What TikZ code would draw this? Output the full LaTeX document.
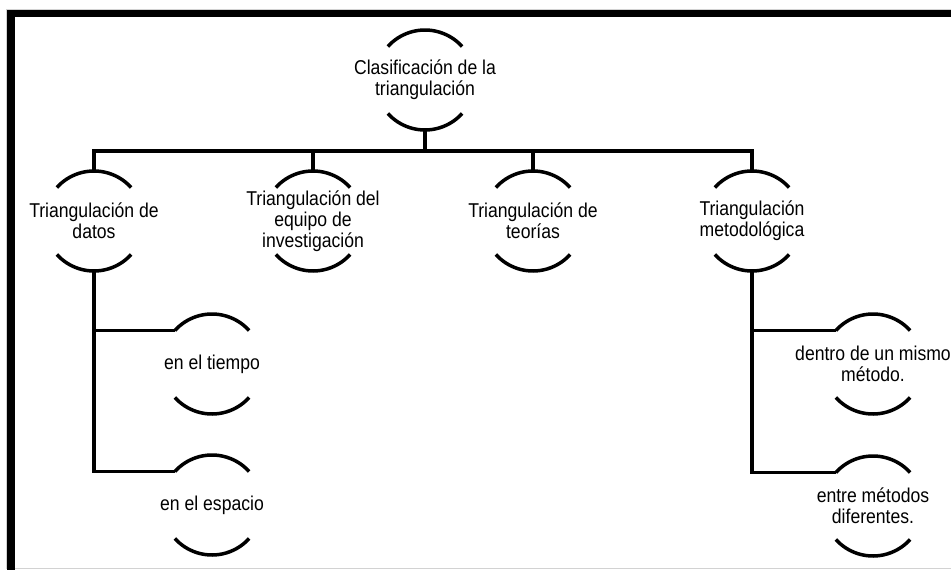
\documentclass[tikz,border=0pt]{standalone}
\usepackage{fontspec}
\setmainfont{Liberation Sans}[FakeStretch=0.88]
\begin{document}
\begin{tikzpicture}[x=1pt,y=-1pt,
        rama/.style={line width=3.5pt},
        nodo/.style={circle,minimum size=100pt,inner sep=0pt,outer sep=0pt},
        texto/.style={align=center,font=\fontsize{20}{21}\selectfont}]
        \useasboundingbox (0,0) rectangle (951,570);
        % Marco
        \draw[gray!35,line width=1pt] (6.5,9) rectangle (960,568);
        \fill (7,10) rectangle (951,17);
        \fill (7,10) rectangle (15,570);

        % Nodos
        \node[nodo,label={[texto]center:Clasificación de la\\triangulación}] (clasif) at (425,80) {};
        \node[nodo,label={[texto]center:Triangulación de\\datos}] (datos) at (94,221) {};
        \node[nodo,label={[texto]center:Triangulación del\\equipo de\\investigación}] (equipo) at (313,221) {};
        \node[nodo,label={[texto]center:Triangulación de\\teorías}] (teorias) at (533,221) {};
        \node[nodo,label={[texto]center:Triangulación\\metodológica}] (metodo) at (752,221) {};
        \node[nodo,label={[texto]center:en el tiempo}] (tiempo) at (212,364) {};
        \node[nodo,label={[texto]center:en el espacio}] (espacio) at (212,505) {};
        \node[nodo,label={[texto]center:dentro de un mismo\\método.}] (dentro) at (873,364) {};
        \node[nodo,label={[texto]center:entre métodos\\diferentes.}] (entre) at (873,506) {};

        % Arcos
        \foreach \n in {clasif,datos,equipo,teorias,metodo,tiempo,espacio,dentro,entre} {
        \draw[rama] (\n.138) arc (138:42:50pt);
        \draw[rama] (\n.222) arc (222:318:50pt);
        }

        % Ramas
        \coordinate (bus) at (0,151);
        \draw[rama] (clasif.south) -- (clasif.south |- bus);
        \draw[rama] (datos.north) -- (datos.north |- bus) -- (metodo.north |- bus) -- (metodo.north);
        \foreach \n in {equipo,teorias} {
        \draw[rama] (\n.north) -- (\n.north |- bus);
        }
        \draw[rama] (datos.south) |- (tiempo.138);
        \draw[rama] (datos.south) |- (espacio.138);
        \draw[rama] (metodo.south) |- (dentro.138);
        \draw[rama] (metodo.south) |- (entre.138);
\end{tikzpicture}
\end{document}
